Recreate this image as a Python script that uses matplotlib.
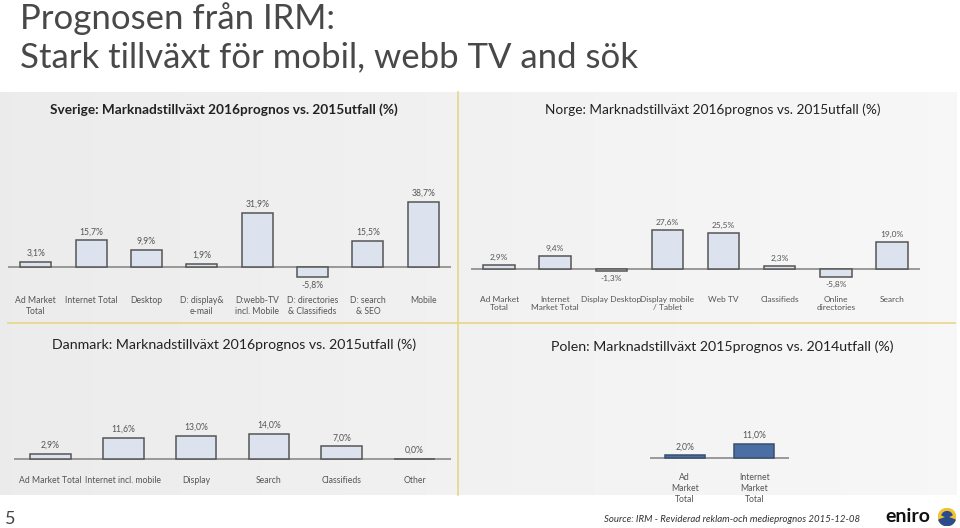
import matplotlib
matplotlib.use("Agg")
import matplotlib.pyplot as plt
import numpy as np
from matplotlib.patches import Circle, Wedge

plt.rcParams['font.family'] = ['Lato', 'DejaVu Sans']

W, H = 960, 528

# data
se_cats = ["Ad Market\nTotal", "Internet Total", "Desktop", "D: display&\ne-mail",
           "D:webb-TV\nincl. Mobile", "D: directories\n& Classifieds", "D: search\n& SEO", "Mobile"]
se_vals = [3.1, 15.7, 9.9, 1.9, 31.9, -5.8, 15.5, 38.7]

no_cats = ["Ad Market\nTotal", "Internet\nMarket Total", "Display Desktop", "Display mobile\n/ Tablet",
           "Web TV", "Classifieds", "Online\ndirectories", "Search"]
no_vals = [2.9, 9.4, -1.3, 27.6, 25.5, 2.3, -5.8, 19.0]

dk_cats = ["Ad Market Total", "Internet incl. mobile", "Display", "Search", "Classifieds", "Other"]
dk_vals = [2.9, 11.6, 13.0, 14.0, 7.0, 0.0]

pl_cats = ["Ad\nMarket\nTotal", "Internet\nMarket\nTotal"]
pl_vals = [2.0, 11.0]


def fmt(v):
    return ("%.1f%%" % v).replace(".", ",")


def px_axes(fig, x0, x1, ytop, ybot):
    return fig.add_axes([x0 / W, 1 - ybot / H, (x1 - x0) / W, (ybot - ytop) / H])


def bar_panel(ax, cats, vals, base_px, top_px, bot_px, scale, width, face, edge, labelsize=6.2, pad=4):
    x = np.arange(len(vals))
    ax.bar(x, vals, width=width, color=face, edgecolor=edge, linewidth=1.1, zorder=3)
    ax.set_xlim(-0.5, len(vals) - 0.5)
    ax.set_ylim(-(bot_px - base_px) / scale, (base_px - top_px) / scale)
    ax.axhline(0, color="#8a8a8a", lw=1.2, zorder=2)
    for xi, v in zip(x, vals):
        if v >= 0:
            ax.annotate(fmt(v), (xi, v), xytext=(0, 3), textcoords="offset points",
                        ha="center", va="bottom", fontsize=labelsize, color="#555555")
        else:
            ax.annotate(fmt(v), (xi, v), xytext=(0, -3), textcoords="offset points",
                        ha="center", va="top", fontsize=labelsize, color="#555555")
    ax.set_xticks(x)
    ax.set_xticklabels(cats, fontsize=labelsize, color="#555555", linespacing=1.3)
    ax.tick_params(axis="x", length=0, pad=pad)
    ax.set_yticks([])
    for s in ax.spines.values():
        s.set_visible(False)
    ax.patch.set_alpha(0)


fig = plt.figure(figsize=(W / 100, H / 100), dpi=100)

# grey panel with gradient
bg = fig.add_axes([0, 1 - 495 / H, 957 / W, (495 - 92) / H])
grad = np.linspace(0.925, 0.97, 256).reshape(1, -1)
bg.imshow(np.dstack([grad, grad, grad]), aspect="auto", extent=[0, 1, 0, 1])
bg.set_axis_off()

# dividers
fig.add_artist(plt.Line2D([458 / W, 458 / W], [1 - 92 / H, 1 - 495 / H], color="#e8d58a", lw=1.2))
fig.add_artist(plt.Line2D([8 / W, 955 / W], [1 - 323 / H, 1 - 323 / H], color="#e8d58a", lw=1.2))

# title
fig.text(20 / W, 1 - 19 / H, "Prognosen från IRM:", fontsize=25,
         color="#484848", va="center", ha="left")
fig.text(20 / W, 1 - 57 / H, "Stark tillväxt för mobil, webb TV and sök", fontsize=25,
         color="#484848", va="center", ha="left")

# panel titles
fig.text(224 / W, 1 - 110 / H, "Sverige: Marknadstillväxt 2016prognos vs. 2015utfall (%)",
         fontsize=9.8, color="#222222", ha="center", va="center", fontweight="bold")
fig.text(713 / W, 1 - 110 / H, "Norge: Marknadstillväxt 2016prognos vs. 2015utfall (%)",
         fontsize=9.8, color="#222222", ha="center", va="center")
fig.text(52 / W, 1 - 345 / H, "Danmark: Marknadstillväxt 2016prognos vs. 2015utfall (%)",
         fontsize=10.2, color="#222222", ha="left", va="center")
fig.text(551 / W, 1 - 347 / H, "Polen: Marknadstillväxt 2015prognos vs. 2014utfall (%)",
         fontsize=10.2, color="#222222", ha="left", va="center")

# Sverige
ax1 = px_axes(fig, 8, 451, 185, 290)
bar_panel(ax1, se_cats, se_vals, 267, 185, 290, 1.69, 0.56, "#dce3ee", "#555555")

# Norge
ax2 = px_axes(fig, 471, 920, 185, 290)
bar_panel(ax2, no_cats, no_vals, 269, 185, 290, 1.41, 0.56, "#dce3ee", "#555555", labelsize=6.0)

# Danmark
ax3 = px_axes(fig, 14, 451, 410, 470)
bar_panel(ax3, dk_cats, dk_vals, 459, 410, 470, 1.79, 0.56, "#dce3ee", "#555555")

# Polen
ax4 = px_axes(fig, 650, 789, 420, 470)
bar_panel(ax4, pl_cats, pl_vals, 458, 420, 470, 1.31, 0.58, "#4a6fa5", "#3a4f6e", pad=2)

# footer
fig.text(5 / W, 1 - 519 / H, "5", fontsize=13, color="#444444", va="center", ha="left")
fig.text(860 / W, 1 - 519 / H, "Source: IRM - Reviderad reklam-och medieprognos 2015-12-08",
         fontsize=6.9, style="italic", color="#333333", va="center", ha="right")
fig.text(885 / W, 1 - 517 / H, "eniro", fontsize=14, fontweight="bold", color="#111111",
         va="center", ha="left")
logo = fig.add_axes([938 / W, 1 - 526 / H, 18 / W, 18 / H])
logo.add_patch(Circle((0.5, 0.5), 0.48, color="#f2c230"))
logo.add_patch(Wedge((0.5, 0.5), 0.48, 200, 340, color="#2a4c8c"))
logo.add_patch(Wedge((0.5, 0.5), 0.3, 20, 160, color="#2a4c8c"))
logo.set_xlim(0, 1)
logo.set_ylim(0, 1)
logo.set_aspect("equal")
logo.set_axis_off()

fig.savefig("out.png", dpi=100)
